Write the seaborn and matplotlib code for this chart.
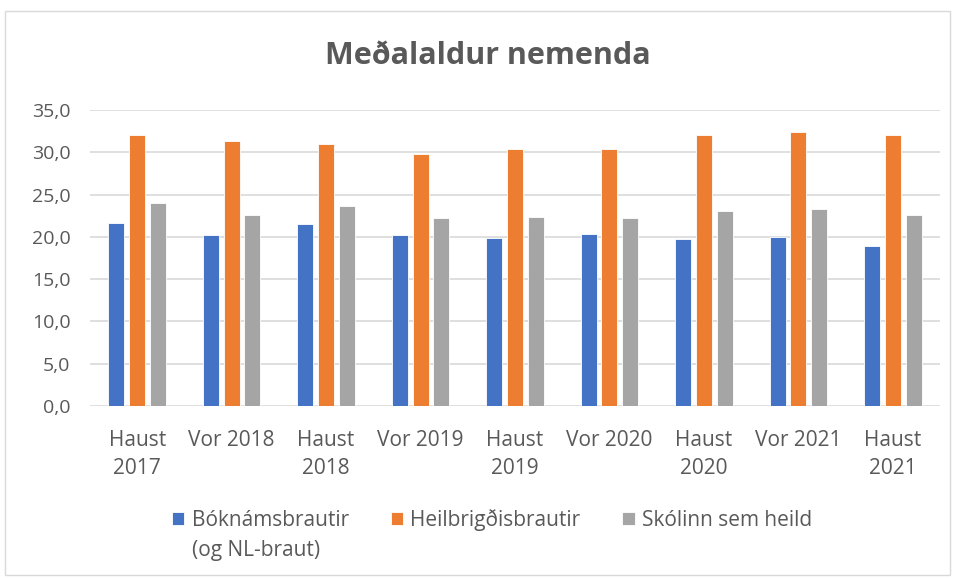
import matplotlib
matplotlib.use("Agg")
import matplotlib.pyplot as plt
from matplotlib.patches import Rectangle
import seaborn as sns
import pandas as pd

categories = ["Haust\n2017", "Vor 2018", "Haust\n2018", "Vor 2019", "Haust\n2019",
              "Vor 2020", "Haust\n2020", "Vor 2021", "Haust\n2021"]
series_names = ["Bóknámsbrautir", "Heilbrigðisbrautir", "Skólinn sem heild"]
series_note = "(og NL-braut)"
boknam = [21.6, 20.2, 21.5, 20.2, 19.9, 20.3, 19.7, 20.0, 18.9]
heilbrigdi = [32.0, 31.3, 31.0, 29.8, 30.4, 30.4, 32.1, 32.4, 32.1]
skolinn = [24.0, 22.6, 23.6, 22.2, 22.4, 22.2, 23.0, 23.3, 22.6]
colors = ["#4472C4", "#ED7D31", "#A5A5A5"]
yticks = [0, 5, 10, 15, 20, 25, 30, 35]

rows = []
for name, vals in zip(series_names, [boknam, heilbrigdi, skolinn]):
    for c, v in zip(categories, vals):
        rows.append({"cat": c, "series": name, "value": v})
df = pd.DataFrame(rows)

sns.set_theme(style="white")
plt.rcParams['font.family'] = ['Open Sans', 'DejaVu Sans']

W, H = 956, 579
fig = plt.figure(figsize=(W/100, H/100), dpi=100)
ax = fig.add_axes([90/W, 1-406/H, 850/W, 296/H])

sns.barplot(data=df, x="cat", y="value", hue="series", order=categories,
            hue_order=series_names, palette=colors, saturation=1, width=0.66, gap=0.23,
            edgecolor="white", linewidth=0.6, errorbar=None, ax=ax, zorder=3)

ax.set_ylim(0, 35)
ax.set_xlim(-0.5, len(categories) - 0.5)
ax.set_yticks(yticks)
ax.set_yticklabels([f"{t:.1f}".replace(".", ",") for t in yticks], fontsize=14, color="#595959")
ax.set_xticks(range(len(categories)))
ax.set_xticklabels(categories, fontsize=15, color="#595959", linespacing=1.45, va="top")
ax.tick_params(axis="x", length=0, pad=17)
ax.tick_params(axis="y", length=0, pad=14)
ax.set_xlabel("")
ax.set_ylabel("")
ax.grid(axis="y", color="#D9D9D9", linewidth=1.2, zorder=0)
for s in ax.spines.values():
    s.set_visible(False)

fig.text(488/W, 1-56/H, "Meðalaldur nemenda", ha="center", va="center",
         fontsize=22, fontweight="bold", color="#595959")

handles, labels = ax.get_legend_handles_labels()
if ax.legend_:
    ax.legend_.remove()
leg = fig.legend(handles, labels, loc="center", bbox_to_anchor=(492/W, 1-520/H),
                 ncol=3, frameon=False, fontsize=15, handlelength=0.6, handleheight=0.6,
                 handletextpad=0.35, columnspacing=2.0, labelcolor="#595959",
                 borderpad=0, borderaxespad=0)

fig.canvas.draw()
bb = leg.get_texts()[0].get_window_extent()
fig.text(bb.x0 / W, (bb.y0 - 30) / H, series_note, ha="left", va="bottom",
         fontsize=15, color="#595959")

fig.patches.append(Rectangle((5/W, 1-575/H), 945/W, 564/H, transform=fig.transFigure,
                             fill=False, edgecolor="#D9D9D9", linewidth=1))

fig.savefig("out.png", dpi=100)
